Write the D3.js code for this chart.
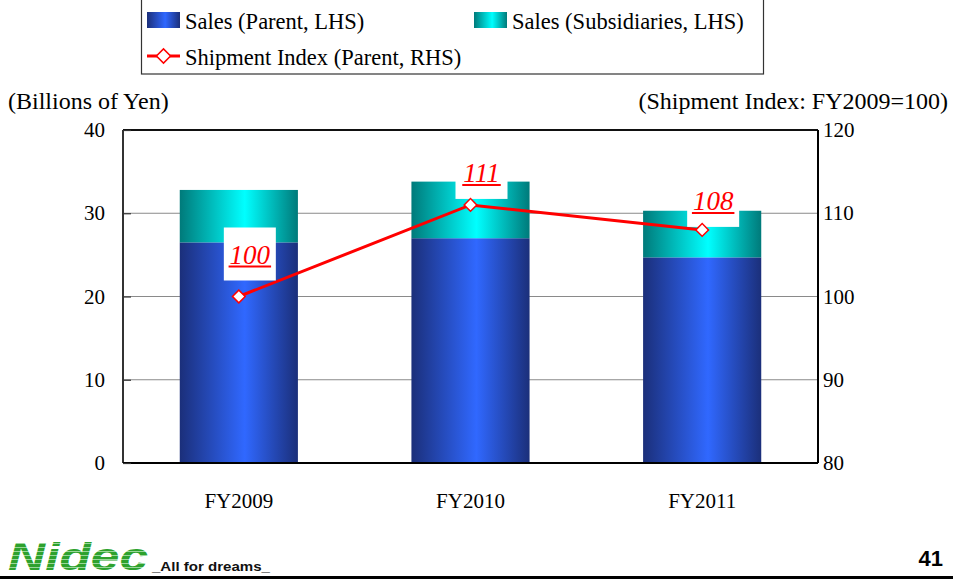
<!DOCTYPE html>
<html>
<head>
<meta charset="utf-8">
<script src="https://cdn.jsdelivr.net/npm/d3@7"></script>
<style>
  html, body { margin: 0; padding: 0; background: #fff; }
  svg { display: block; }
  .serif { font-family: "Liberation Serif", "Times New Roman", serif; }
  .sans { font-family: "Liberation Sans", Arial, sans-serif; }
</style>
</head>
<body>
<svg id="chart" width="953" height="585"></svg>
<script>
// Sales by fiscal year (billions of yen) and parent shipment index (FY2009 = 100)
const categories = ["FY2009", "FY2010", "FY2011"];
const parentSales = [26.5, 27.0, 24.7];
const subsidiarySales = [6.3, 6.8, 5.6];
const shipmentIndex = [100, 111, 108];
const leftTicks = [0, 10, 20, 30, 40];
const rightTicks = [80, 90, 100, 110, 120];

const svg = d3.select("#chart");
const W = 953, H = 585;
const plot = { left: 123, right: 818, top: 130, bottom: 463 };

svg.append("rect").attr("width", W).attr("height", H).attr("fill", "#fff");

const x = d3.scaleBand().domain(categories).range([plot.left, plot.right]).paddingInner(0.49).paddingOuter(0.245);
const yL = d3.scaleLinear().domain([0, 40]).range([plot.bottom, plot.top]);
const yR = d3.scaleLinear().domain([80, 120]).range([plot.bottom, plot.top]);

// Gradients for the bar fills
const defs = svg.append("defs");
function hGrad(id, edge, mid) {
  const g = defs.append("linearGradient").attr("id", id).attr("x1", "0").attr("x2", "1").attr("y1", "0").attr("y2", "0");
  g.append("stop").attr("offset", "0%").attr("stop-color", edge);
  g.append("stop").attr("offset", "55%").attr("stop-color", mid);
  g.append("stop").attr("offset", "100%").attr("stop-color", edge);
}
hGrad("gParent", "#1b2f7a", "#3068ff");
hGrad("gSub", "#007a7a", "#00ffff");

// Gridlines
svg.append("g")
  .selectAll("line").data([10, 20, 30]).join("line")
  .attr("x1", plot.left).attr("x2", plot.right)
  .attr("y1", d => yL(d)).attr("y2", d => yL(d))
  .attr("stroke", "#8a8a8a").attr("stroke-width", 1.2);

// Stacked bars
const stacked = categories.map((c, i) => ({ c, p: parentSales[i], s: subsidiarySales[i] }));
const bars = svg.append("g");
bars.selectAll(".par").data(stacked).join("rect")
  .attr("x", d => x(d.c)).attr("width", x.bandwidth())
  .attr("y", d => yL(d.p)).attr("height", d => yL(0) - yL(d.p))
  .attr("fill", "url(#gParent)");
bars.selectAll(".sub").data(stacked).join("rect")
  .attr("x", d => x(d.c)).attr("width", x.bandwidth())
  .attr("y", d => yL(d.p + d.s)).attr("height", d => yL(d.p) - yL(d.p + d.s))
  .attr("fill", "url(#gSub)");

// Plot frame
const frame = svg.append("g").attr("fill", "none");
frame.append("line").attr("x1", plot.left).attr("x2", plot.right).attr("y1", plot.top).attr("y2", plot.top).attr("stroke", "#111").attr("stroke-width", 2);
frame.append("line").attr("x1", plot.left).attr("x2", plot.left).attr("y1", plot.top).attr("y2", plot.bottom).attr("stroke", "#333").attr("stroke-width", 2);
frame.append("line").attr("x1", plot.right).attr("x2", plot.right).attr("y1", plot.top).attr("y2", plot.bottom).attr("stroke", "#000").attr("stroke-width", 2);
frame.append("line").attr("x1", plot.left).attr("x2", plot.right).attr("y1", plot.bottom).attr("y2", plot.bottom).attr("stroke", "#000").attr("stroke-width", 2);

// Axes (labels and inner ticks; the frame is drawn separately)
const axL = svg.append("g").attr("transform", `translate(${plot.left},0)`)
  .call(d3.axisLeft(yL).tickValues(leftTicks).tickSize(8).tickPadding(10));
const axR = svg.append("g").attr("transform", `translate(${plot.right},0)`)
  .call(d3.axisRight(yR).tickValues(rightTicks).tickSize(0).tickPadding(5));
const axB = svg.append("g").attr("transform", `translate(0,${plot.bottom})`)
  .call(d3.axisBottom(x).tickSize(0).tickPadding(30));
[axL, axR, axB].forEach(a => {
  a.select(".domain").remove();
  a.selectAll("text").attr("class", "serif").attr("font-size", 21).attr("fill", "#000");
});
axL.selectAll(".tick line").attr("stroke", "#333").attr("stroke-width", 1.2).attr("x1", 0).attr("x2", 8);

// Axis titles
svg.append("text").attr("class", "serif").attr("x", 8).attr("y", 109).attr("font-size", 24).text("(Billions of Yen)");
svg.append("text").attr("class", "serif").attr("x", 948).attr("y", 109).attr("font-size", 24).attr("text-anchor", "end").text("(Shipment Index: FY2009=100)");

// Shipment index line
const cx = c => x(c) + x.bandwidth() / 2;
const pts = categories.map((c, i) => ({ c, v: shipmentIndex[i] }));
svg.append("path").datum(pts)
  .attr("d", d3.line().x(d => cx(d.c)).y(d => yR(d.v)))
  .attr("fill", "none").attr("stroke", "#ff0000").attr("stroke-width", 3);

// Value labels in white boxes
const labelLift = [16, 6, 3];
const labels = svg.append("g");
pts.forEach((d, i) => {
  const bx = cx(d.c) + 11, bottom = yR(d.v) - labelLift[i];
  labels.append("rect").attr("x", bx - 26).attr("y", bottom - 53).attr("width", 52).attr("height", 53).attr("fill", "#fff");
  const t = labels.append("text").attr("class", "serif").attr("x", bx).attr("y", bottom - 17)
    .attr("text-anchor", "middle").attr("font-size", 27).attr("font-style", "italic")
    .attr("fill", "#ff0000").text(d.v);
  const w = t.node().getComputedTextLength();
  labels.append("line").attr("x1", bx - w / 2 - 1).attr("x2", bx + w / 2 + 1)
    .attr("y1", bottom - 14).attr("y2", bottom - 14).attr("stroke", "#ff0000").attr("stroke-width", 2);
});

// Diamond markers
svg.append("g").selectAll("path").data(pts).join("path")
  .attr("transform", d => `translate(${cx(d.c)},${yR(d.v)}) rotate(45)`)
  .attr("d", "M-4.5,-4.5H4.5V4.5H-4.5Z")
  .attr("fill", "#fff").attr("stroke", "#ff0000").attr("stroke-width", 1.5);

// Legend
const lg = svg.append("g");
lg.append("rect").attr("x", 141.5).attr("y", -1).attr("width", 622).attr("height", 75)
  .attr("fill", "#fff").attr("stroke", "#333").attr("stroke-width", 1.2);
const legendItems = [
  { label: "Sales (Parent, LHS)", type: "bar", fill: "url(#gParent)", lx: 147, ly: 20 },
  { label: "Sales (Subsidiaries, LHS)", type: "bar", fill: "url(#gSub)", lx: 474, ly: 20 },
  { label: "Shipment Index (Parent, RHS)", type: "line", lx: 147, ly: 56 }
];
legendItems.forEach(it => {
  if (it.type === "bar") {
    lg.append("rect").attr("x", it.lx).attr("y", it.ly - 8).attr("width", 33).attr("height", 16).attr("fill", it.fill);
  } else {
    lg.append("line").attr("x1", it.lx).attr("x2", it.lx + 33).attr("y1", it.ly).attr("y2", it.ly).attr("stroke", "#ff0000").attr("stroke-width", 3);
    lg.append("path").attr("transform", `translate(${it.lx + 16.5},${it.ly}) rotate(45)`)
      .attr("d", "M-5,-5H5V5H-5Z").attr("fill", "#fff").attr("stroke", "#ff0000").attr("stroke-width", 1.5);
  }
  lg.append("text").attr("class", "serif").attr("x", it.lx + 38).attr("y", it.ly + 9).attr("font-size", 22.5).text(it.label);
});

// Footer: logo, tagline, rule and page number
const pat = defs.append("pattern").attr("id", "stripes").attr("patternUnits", "userSpaceOnUse").attr("width", 8).attr("height", 4);
pat.append("rect").attr("width", 8).attr("height", 4).attr("fill", "#2ea12e");
pat.append("rect").attr("y", 3).attr("width", 8).attr("height", 0.7).attr("fill", "#c9eec9");
svg.append("text").attr("class", "sans").attr("x", 8).attr("y", 570)
  .attr("font-weight", "bold").attr("font-style", "italic").attr("font-size", 38)
  .attr("textLength", 140).attr("lengthAdjust", "spacingAndGlyphs")
  .attr("fill", "url(#stripes)").text("Nidec");
svg.append("text").attr("class", "sans").attr("x", 152).attr("y", 571)
  .attr("font-weight", "bold").attr("font-size", 13)
  .attr("textLength", 118).attr("lengthAdjust", "spacingAndGlyphs")
  .attr("fill", "#111").text("_All for dreams_");
svg.append("line").attr("x1", 0).attr("x2", W).attr("y1", 577.5).attr("y2", 577.5).attr("stroke", "#000").attr("stroke-width", 3);
svg.append("text").attr("class", "sans").attr("x", 943).attr("y", 566).attr("text-anchor", "end")
  .attr("font-weight", "bold").attr("font-size", 22).text("41");
</script>
</body>
</html>
